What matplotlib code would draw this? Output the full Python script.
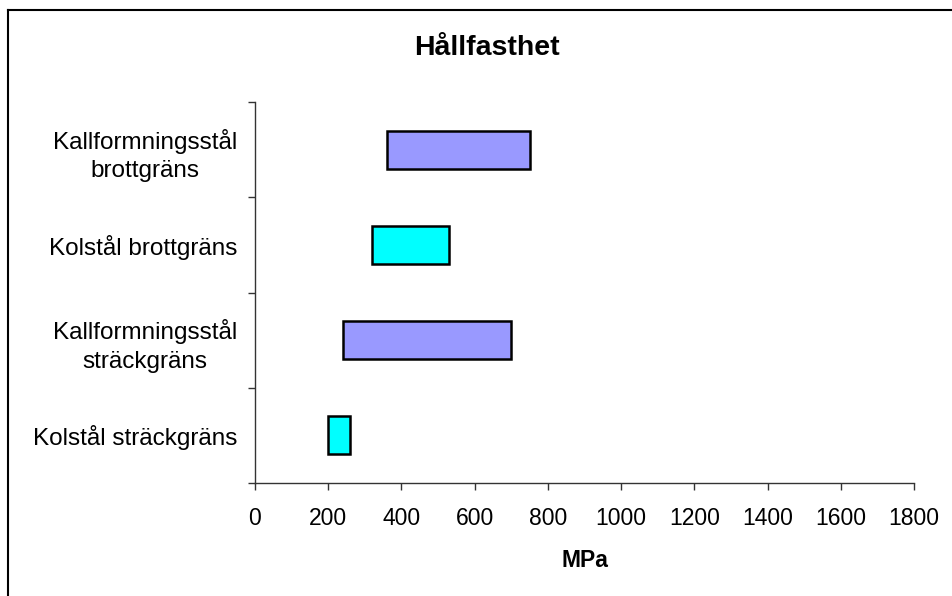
import matplotlib.pyplot as plt
from matplotlib.lines import Line2D

plt.rcParams['font.family'] = ['Liberation Sans', 'DejaVu Sans']

# ----------------------------------------------------------------------------
# Data (bottom to top)
# ----------------------------------------------------------------------------
categories = ['Kolstål sträckgräns',
              'Kallformningsstål\nsträckgräns',
              'Kolstål brottgräns',
              'Kallformningsstål\nbrottgräns']
low_mpa = [200, 240, 320, 360]
high_mpa = [260, 700, 530, 750]
bar_colors = ['#00FFFF', '#9999FF', '#00FFFF', '#9999FF']
x_ticks = [0, 200, 400, 600, 800, 1000, 1200, 1400, 1600, 1800]

# ----------------------------------------------------------------------------
# Figure
# ----------------------------------------------------------------------------
fig = plt.figure(figsize=(9.53, 5.96), dpi=100)
ax = fig.add_axes([255 / 953, 1 - 483 / 596, 659 / 953, 381 / 596])

ypos = list(range(len(categories)))
widths = [h - l for l, h in zip(low_mpa, high_mpa)]
ax.barh(ypos, widths, left=low_mpa, height=0.4, color=bar_colors,
        edgecolor='black', linewidth=1.8)

ax.set_xlim(0, 1800)
ax.set_ylim(-0.5, len(categories) - 0.5)
ax.set_xticks(x_ticks)
ax.set_xticklabels([str(t) for t in x_ticks])

# category labels centred on bars, tick marks on the category boundaries
ax.set_yticks(ypos)
ax.set_yticklabels(categories, multialignment='center', linespacing=1.4)
ax.set_yticks([i - 0.5 for i in range(len(categories) + 1)], minor=True)
ax.tick_params(axis='y', which='major', length=0, pad=13, labelsize=17.5)
ax.tick_params(axis='y', which='minor', length=5, width=1, color='#333333')
ax.tick_params(axis='x', length=5, width=1, color='#333333', pad=12,
               labelsize=16.5)

for side in ['top', 'right']:
    ax.spines[side].set_visible(False)
for side in ['left', 'bottom']:
    ax.spines[side].set_color('#333333')
    ax.spines[side].set_linewidth(1)

ax.set_xlabel('MPa', fontsize=16.5, fontweight='bold', labelpad=14)
fig.text(487 / 953, 1 - 48 / 596, 'Hållfasthet', fontsize=20.5,
         fontweight='bold', ha='center', va='center')

# chart area border (top and left edges visible)
fig.add_artist(Line2D([8 / 953, 1], [1 - 10 / 596, 1 - 10 / 596],
                      transform=fig.transFigure, color='black', lw=1.5))
fig.add_artist(Line2D([8 / 953, 8 / 953], [0, 1 - 10 / 596],
                      transform=fig.transFigure, color='black', lw=1.5))

fig.savefig('out.png', dpi=100)
